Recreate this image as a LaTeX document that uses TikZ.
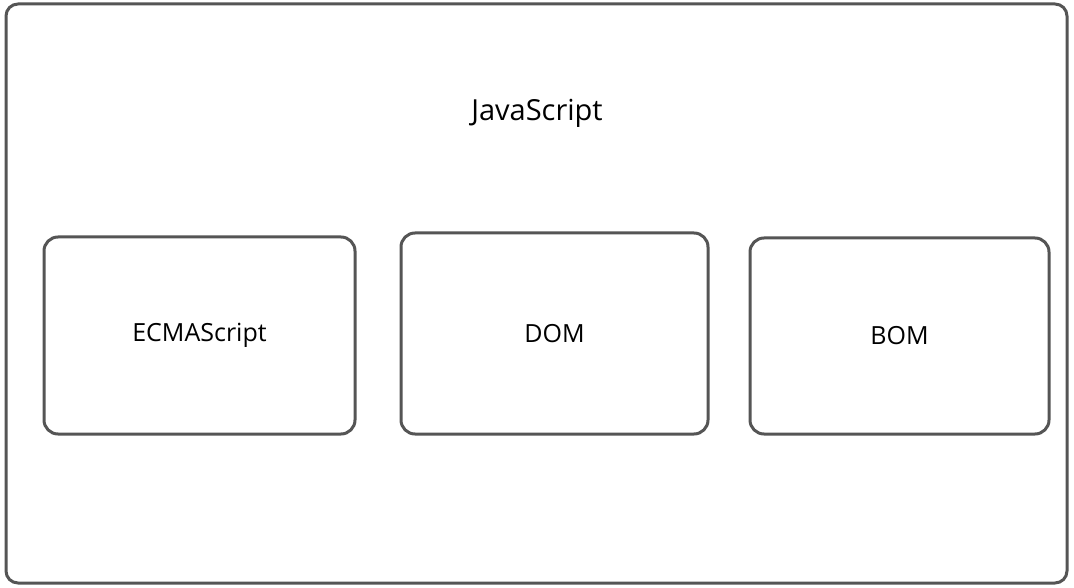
\documentclass[tikz,border=0pt]{standalone}
\usepackage{fontspec}
\setmainfont{Open Sans}
\usetikzlibrary{positioning}
\definecolor{edge}{HTML}{555555}
\begin{document}
\begin{tikzpicture}[x=1pt,y=-1pt,line width=3pt,
    part/.style={draw=edge,rounded corners=14pt,inner sep=0pt,font=\fontsize{25}{30}\selectfont},
    outer/.style={draw=edge,rounded corners=12pt}]
  \useasboundingbox (0,0) rectangle (1074,588);
  \node[outer,minimum width=1061pt,minimum height=579pt] (js) at (536.5,293.5) {};
  \node[font=\fontsize{29}{34}\selectfont] (title) at (537,113) {JavaScript};
  \node[part,minimum width=311pt,minimum height=197pt] (ecma) at (199.5,335.5) {ECMAScript};
  \node[part,minimum width=307pt,minimum height=201pt] (dom) at (554.5,333.5) {DOM};
  \node[part,minimum width=299pt,minimum height=196pt] (bom) at (899.5,336) {BOM};
\end{tikzpicture}
\end{document}
